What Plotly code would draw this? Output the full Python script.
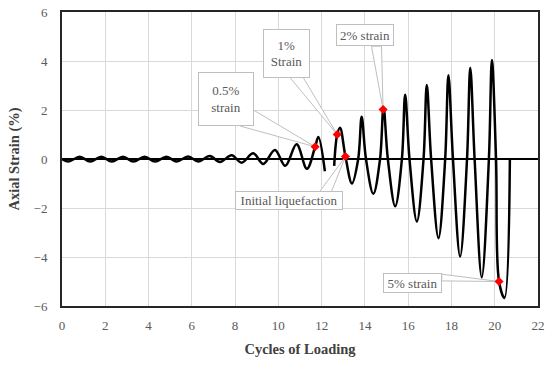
import plotly.graph_objects as go

# ---- data ----
cycles = [0, 0.3, 0.82, 1.3, 1.82, 2.3, 2.82, 3.3, 3.82, 4.3, 4.83, 5.3, 5.83, 6.3, 6.83,
          7.3, 7.84, 8.3, 8.84, 9.3, 9.84, 10.32, 10.84, 11.32, 11.7, 11.85, 12.15,
          None,
          12.58, 12.72, 12.85, 13.1, 13.4, 13.69, 13.85, 14.05, 14.39, 14.7, 14.86, 15.06,
          15.4, 15.71, 15.86, 16.06, 16.4, 16.71, 16.86, 17.06, 17.4, 17.71, 17.86, 18.07,
          18.4, 18.72, 18.87, 19.07, 19.4, 19.73, 19.87, 20.06, 20.2, 20.45, 20.7]
axial_strain = [0, -0.1, 0.09, -0.1, 0.09, -0.1, 0.09, -0.1, 0.09, -0.1, 0.09, -0.1, 0.1, -0.1, 0.12,
                -0.12, 0.15, -0.15, 0.23, -0.2, 0.37, -0.28, 0.6, -0.4, 0.5, 0.9, -0.5,
                None,
                -0.28, 1.0, 1.28, 0.1, -1.0, 0, 1.72, 0, -1.42, 0, 2.12, 0,
                -1.93, 0, 2.62, 0, -2.55, 0, 3.02, 0, -3.23, 0, 3.42, 0,
                -3.98, 0, 3.72, 0, -4.83, 0, 4.04, 0, -5.0, -5.67, 0]

event_labels = ["0.5%<br>strain", "1%<br>Strain", "2% strain", "Initial liquefaction", "5% strain"]
event_cycles = [11.7, 12.72, 14.84, 13.1, 20.2]
event_strain = [0.5, 1.0, 2.02, 0.1, -5.0]

x_ticks = [0, 2, 4, 6, 8, 10, 12, 14, 16, 18, 20, 22]
y_ticks = [-6, -4, -2, 0, 2, 4, 6]

# ---- callout styling (pixel offsets from the marked point) ----
box_shift = [(-89.5, 48.2), (-50.3, 81.5), (-18.3, 74.5), (-56.5, -44.1), (-87, -1)]
box_size = [(56, 54), (47, 49), (58, 22), (108, 19), (59, 20)]
wedge_base = [((-61.7, 36.7), (-75, 20.7)),
              ((-47.3, 57), (-34, 57)),
              ((-11.6, 63.3), (-1.6, 63.3)),
              ((-25.7, -35), (-14, -35)),
              ((-57.3, 7.3), (-57.3, 0.6))]

FONT = "Liberation Serif"
GREY_TXT = "#595959"
BOX_LINE = "#bfbfbf"

fig = go.Figure()
fig.add_trace(go.Scatter(
    x=cycles, y=axial_strain, mode="lines",
    line=dict(color="black", width=2.5, shape="spline", smoothing=1.0),
    connectgaps=False, showlegend=False, hoverinfo="skip"))
fig.add_trace(go.Scatter(
    x=event_cycles, y=event_strain, mode="markers",
    marker=dict(symbol="diamond", size=7, color="#ff0000", line=dict(width=0)),
    showlegend=False))

shapes = []
annotations = []
for lab, ex, ey, (dx, dy), (bw, bh), (b1, b2) in zip(event_labels, event_cycles, event_strain,
                                                      box_shift, box_size, wedge_base):
    shapes.append(dict(
        type="path", xref="x", yref="y", xsizemode="pixel", ysizemode="pixel",
        xanchor=ex, yanchor=ey,
        path=f"M {b1[0]},{b1[1]} L 0,0 L {b2[0]},{b2[1]} Z",
        fillcolor="white", line=dict(color=BOX_LINE, width=1), layer="between"))
    annotations.append(dict(
        x=ex, y=ey, xref="x", yref="y", text=lab, showarrow=False,
        xshift=dx, yshift=dy, width=bw - 2, height=bh - 2,
        font=dict(family=FONT, size=13, color=GREY_TXT),
        bgcolor="white", bordercolor=BOX_LINE, borderwidth=1, borderpad=0,
        align="center", valign="middle"))

fig.update_layout(
    width=550, height=366,
    margin=dict(l=62, r=12, t=12, b=60),
    paper_bgcolor="white", plot_bgcolor="white",
    font=dict(family=FONT, size=13, color=GREY_TXT),
    shapes=shapes, annotations=annotations,
    xaxis=dict(range=[0, 22], tickvals=x_ticks, showgrid=True, gridcolor="#d9d9d9", gridwidth=1,
               zeroline=False, showline=True, linecolor="#262626", linewidth=2, mirror=True,
               ticks="", ticklabelstandoff=6, automargin=False,
               tickfont=dict(family=FONT, size=13, color=GREY_TXT),
               title=dict(text="<b>Cycles of Loading</b>", standoff=12,
                          font=dict(family=FONT, size=14.5, color="#404040"))),
    yaxis=dict(range=[-6, 6], tickvals=y_ticks, showgrid=True, gridcolor="#d9d9d9", gridwidth=1,
               zeroline=True, zerolinecolor="black", zerolinewidth=2,
               showline=True, linecolor="#262626", linewidth=2, mirror=True,
               ticks="", ticklabelstandoff=10, automargin=False,
               tickfont=dict(family=FONT, size=13, color=GREY_TXT),
               title=dict(text="<b>Axial Strain (%)</b>", standoff=10,
                          font=dict(family=FONT, size=14.5, color="#404040"))),
)

# remove the default 8px page margin so the figure sits at the window's corner
fig.write_html("out.html", config={"displayModeBar": False},
               post_script="document.body.style.margin='0';")
